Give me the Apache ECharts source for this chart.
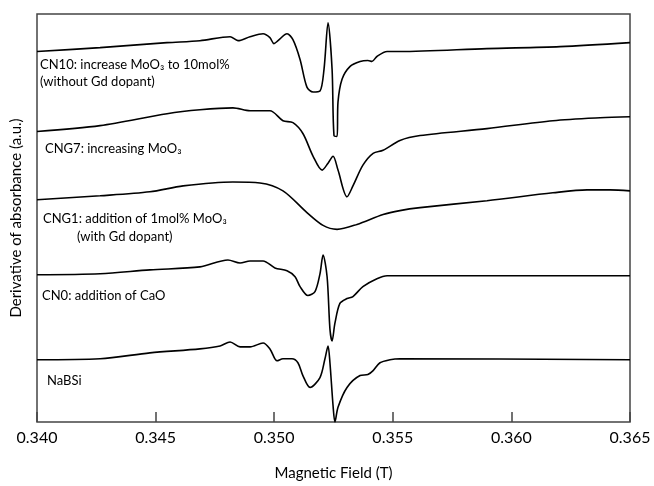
<!DOCTYPE html>
<html>
<head>
<meta charset="utf-8">
<script src="https://cdn.jsdelivr.net/npm/echarts@6/dist/echarts.min.js"></script>
<style>
  html, body { margin: 0; padding: 0; background: #fff; }
  #main { width: 654px; height: 486px; }
</style>
</head>
<body>
<div id="main"></div>
<script>
// magnetic field (T) / derivative signal (a.u., offset per trace)
var cn10 = [
  [0.34000, 375], [0.34266, 379], [0.34548, 384], [0.34687, 386], [0.34814, 390],
  [0.34847, 386], [0.34898, 390], [0.34953, 393], [0.34982, 389], [0.34999, 383],
  [0.35016, 386], [0.35054, 393], [0.35079, 387], [0.35109, 367], [0.35138, 339],
  [0.35164, 334], [0.35193, 335], [0.35210, 357], [0.35227, 404], [0.35244, 357],
  [0.35252, 290], [0.35265, 289], [0.35269, 324], [0.35286, 347], [0.35320, 360],
  [0.35362, 365], [0.35395, 366], [0.35412, 365], [0.35433, 370], [0.35476, 375],
  [0.35530, 375], [0.35897, 378], [0.36205, 380], [0.36500, 384]
];
var cng7 = [
  [0.34000, 294], [0.34266, 300], [0.34548, 312], [0.34687, 316], [0.34826, 318],
  [0.34898, 315], [0.34982, 315], [0.35037, 305], [0.35079, 303], [0.35121, 292],
  [0.35164, 269], [0.35202, 255], [0.35227, 262], [0.35248, 269], [0.35269, 255],
  [0.35307, 228], [0.35332, 239], [0.35374, 260], [0.35417, 272], [0.35459, 275],
  [0.35530, 285], [0.35615, 290], [0.35897, 297], [0.36175, 305], [0.36374, 308],
  [0.36500, 309]
];
var cng1 = [
  [0.34000, 225], [0.34266, 229], [0.34476, 233], [0.34616, 239], [0.34826, 243],
  [0.34940, 242], [0.35037, 234], [0.35138, 212], [0.35206, 199], [0.35265, 195],
  [0.35349, 200], [0.35459, 210], [0.35530, 214], [0.35615, 217], [0.35897, 224],
  [0.36175, 232], [0.36319, 235], [0.36416, 235], [0.36500, 234]
];
var cn0 = [
  [0.34000, 149], [0.34266, 150], [0.34476, 154], [0.34687, 157], [0.34805, 164],
  [0.34856, 161], [0.34898, 163], [0.34953, 163], [0.35003, 156], [0.35054, 153],
  [0.35088, 147], [0.35109, 137], [0.35142, 128], [0.35172, 132], [0.35193, 150],
  [0.35206, 169], [0.35223, 147], [0.35235, 94], [0.35244, 82], [0.35256, 100],
  [0.35277, 120], [0.35307, 125], [0.35332, 127], [0.35374, 137], [0.35433, 145],
  [0.35476, 148], [0.35530, 148], [0.36500, 148]
];
var nabsi = [
  [0.34000, 63], [0.34266, 64], [0.34476, 70], [0.34687, 74], [0.34772, 77],
  [0.34814, 81], [0.34856, 76], [0.34898, 76], [0.34953, 80], [0.34982, 74],
  [0.35012, 62], [0.35037, 64], [0.35075, 64], [0.35100, 60], [0.35121, 47],
  [0.35151, 35], [0.35193, 45], [0.35214, 64], [0.35227, 77], [0.35235, 60],
  [0.35248, 17], [0.35256, 0], [0.35269, 15], [0.35307, 35], [0.35362, 47],
  [0.35395, 48], [0.35417, 52], [0.35446, 60], [0.35488, 63], [0.35530, 64],
  [0.36500, 63]
];

var traces = [cn10, cng7, cng1, cn0, nabsi];

var labelFont = 'Lato';

var chart = echarts.init(document.getElementById('main'));

var series = [];
for (var i = 0; i < traces.length; i++) {
  series.push({
    type: 'line',
    data: traces[i],
    showSymbol: false,
    smooth: 0.3,
    lineStyle: { color: '#000', width: 1.6 },
    silent: true
  });
}

function txt(x, y, s) {
  return {
    type: 'text', left: x, top: y,
    style: { text: s, font: '13px ' + labelFont, fill: '#000' }
  };
}

var option = {
  animation: false,
  backgroundColor: '#fff',
  grid: {
    left: 37, right: 24, top: 14, bottom: 59,
    show: true, borderColor: '#444', borderWidth: 1.5, backgroundColor: 'transparent'
  },
  xAxis: {
    type: 'value',
    min: 0.340, max: 0.365, interval: 0.005,
    name: 'Magnetic Field (T)',
    nameLocation: 'middle',
    nameGap: 44,
    nameTextStyle: { fontSize: 15, color: '#000', fontFamily: labelFont },
    axisLine: { show: false },
    axisTick: { show: true, inside: true, length: 10, lineStyle: { color: '#444', width: 1.5 } },
    axisLabel: {
      fontSize: 16, color: '#000', fontFamily: labelFont, margin: 8,
      formatter: function (v) { return v.toFixed(3); }
    },
    splitLine: { show: false }
  },
  yAxis: {
    type: 'value',
    min: 0, max: 413,
    name: 'Derivative of absorbance (a.u.)',
    nameLocation: 'middle',
    nameGap: 13,
    nameTextStyle: { fontSize: 15, color: '#000', fontFamily: labelFont },
    axisLine: { show: false },
    axisTick: { show: false },
    axisLabel: { show: false },
    splitLine: { show: false }
  },
  series: series,
  graphic: [
    txt(40, 58, 'CN10: increase MoO\u2083 to 10mol%'),
    txt(40, 75, '(without Gd dopant)'),
    txt(45, 142, 'CNG7: increasing MoO\u2083'),
    txt(43, 212, 'CNG1: addition of 1mol% MoO\u2083'),
    txt(77, 230, '(with Gd dopant)'),
    txt(42, 289, 'CN0: addition of CaO'),
    txt(47, 374, 'NaBSi')
  ]
};

chart.setOption(option);
</script>
</body>
</html>
